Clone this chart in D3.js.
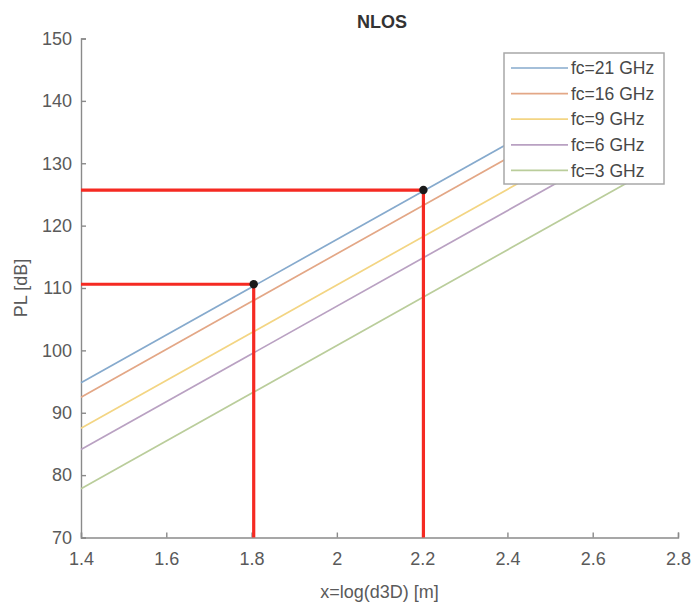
<!DOCTYPE html>
<html>
<head>
<meta charset="utf-8">
<script src="https://cdn.jsdelivr.net/npm/d3@7"></script>
<style>
  html, body { margin: 0; padding: 0; background: #fff; }
  svg { display: block; font-family: "Liberation Sans", Arial, sans-serif; }
</style>
</head>
<body>
<svg id="chart" width="698" height="602"></svg>
<script>
// Path loss vs. log distance, one straight line per carrier frequency
const seriesNames = ["fc=21 GHz", "fc=16 GHz", "fc=9 GHz", "fc=6 GHz", "fc=3 GHz"];
const seriesColors = ["#86aacd", "#e3a786", "#f3d583", "#b9a1c2", "#bacd9b"];
const lineX = [1.4, 2.7];
const pl21 = [94.8, 144.6];
const pl16 = [92.5, 142.3];
const pl9 = [87.5, 137.3];
const pl6 = [84.1, 133.9];
const pl3 = [77.8, 127.6];
const seriesValues = [pl21, pl16, pl9, pl6, pl3];

// Marked operating points on the 21 GHz line
const markX = [1.805, 2.203];
const markPL = [110.6, 125.7];

const xTicks = [1.4, 1.6, 1.8, 2, 2.2, 2.4, 2.6, 2.8];
const yTicks = [70, 80, 90, 100, 110, 120, 130, 140, 150];

const svg = d3.select("#chart");
const margin = { left: 81, top: 38.5, right: 20, bottom: 64.5 };
const W = 698, H = 602;

const x = d3.scaleLinear().domain([1.4, 2.8]).range([margin.left, W - margin.right]);
const y = d3.scaleLinear().domain([70, 150]).range([H - margin.bottom, margin.top]);

const axisColor = "#8a8a8a";
const textColor = "#5a5a5a";

// Axes (ticks point inward)
const gx = svg.append("g")
  .attr("transform", `translate(0,${y(70)})`)
  .call(d3.axisBottom(x).tickValues(xTicks).tickSize(-5).tickPadding(14)
    .tickFormat(d3.format("")));
const gy = svg.append("g")
  .attr("transform", `translate(${x(1.4)},0)`)
  .call(d3.axisLeft(y).tickValues(yTicks).tickSize(-5).tickPadding(9));

[gx, gy].forEach(g => {
  g.select(".domain").attr("stroke", axisColor).attr("stroke-width", 1.4);
  g.selectAll(".tick line").attr("stroke", axisColor).attr("stroke-width", 1.4);
  g.selectAll(".tick text").attr("fill", textColor).attr("font-size", 18)
    .attr("font-family", "Liberation Sans, Arial, sans-serif");
});
gx.selectAll(".tick text").attr("dy", "0.75em");

// Series lines
const line = d3.line().x((d, i) => x(lineX[i])).y(d => y(d));
svg.append("g").selectAll("path")
  .data(seriesValues)
  .join("path")
  .attr("d", d => line(d))
  .attr("fill", "none")
  .attr("stroke", (d, i) => seriesColors[i])
  .attr("stroke-width", 1.7);

// Red guide lines from the axes to each marked point
const guides = svg.append("g");
markX.forEach((mx, i) => {
  guides.append("path")
    .attr("d", `M${x(1.4)},${y(markPL[i])}H${x(mx)}V${y(70)}`)
    .attr("fill", "none")
    .attr("stroke", "#f52a22")
    .attr("stroke-width", 3.2);
});
guides.selectAll("circle")
  .data(markX)
  .join("circle")
  .attr("cx", d => x(d))
  .attr("cy", (d, i) => y(markPL[i]))
  .attr("r", 4.2)
  .attr("fill", "#1a1a1a");

// Title and axis labels
svg.append("text")
  .attr("x", 382).attr("y", 28)
  .attr("text-anchor", "middle")
  .attr("font-size", 18).attr("font-weight", "bold")
  .attr("fill", "#333")
  .text("NLOS");
svg.append("text")
  .attr("x", (x(1.4) + x(2.8)) / 2).attr("y", 598)
  .attr("text-anchor", "middle")
  .attr("font-size", 18).attr("fill", textColor)
  .text("x=log(d3D) [m]");
svg.append("text")
  .attr("transform", `translate(27,${(y(70) + y(150)) / 2}) rotate(-90)`)
  .attr("text-anchor", "middle")
  .attr("font-size", 18).attr("fill", textColor)
  .text("PL [dB]");

// Legend
const lg = svg.append("g").attr("transform", "translate(504,53)");
lg.append("rect")
  .attr("width", 160).attr("height", 131)
  .attr("fill", "#fff")
  .attr("stroke", "#a8a8a8").attr("stroke-width", 1.5);
const items = lg.selectAll("g.item")
  .data(seriesNames)
  .join("g")
  .attr("class", "item")
  .attr("transform", (d, i) => `translate(0,${15 + i * 25.6})`);
items.append("line")
  .attr("x1", 7).attr("x2", 64)
  .attr("stroke", (d, i) => seriesColors[i])
  .attr("stroke-width", 1.7);
items.append("text")
  .attr("x", 67).attr("dy", "0.35em")
  .attr("font-size", 17.5).attr("fill", "#484848")
  .text(d => d);
</script>
</body>
</html>
